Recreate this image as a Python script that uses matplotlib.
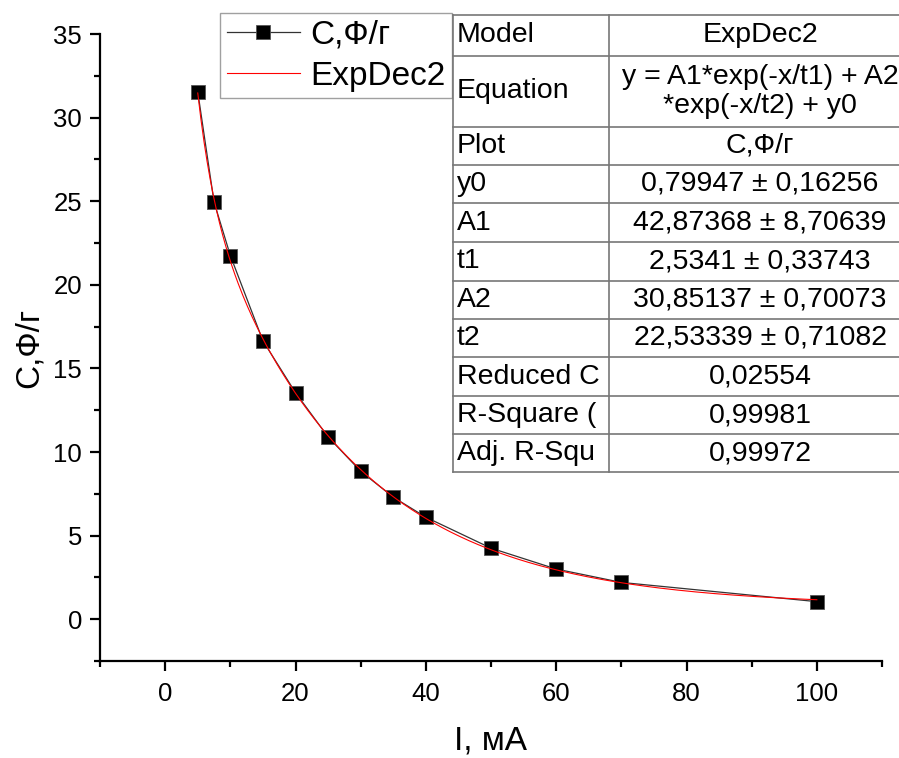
import matplotlib
matplotlib.use('Agg')
import matplotlib.pyplot as plt
import numpy as np
from matplotlib.lines import Line2D
from matplotlib.ticker import MultipleLocator

plt.rcParams['font.family'] = ['Liberation Sans', 'DejaVu Sans']

# measured points
current_ma = [5, 7.5, 10, 15, 20, 25, 30, 35, 40, 50, 60, 70, 100]
capacity = [31.55, 24.95, 21.75, 16.65, 13.55, 10.9, 8.85, 7.3, 6.1, 4.25, 3.0, 2.2, 1.05]

# ExpDec2 fit parameters (from the table)
y0, A1, t1, A2, t2 = 0.79947, 42.87368, 2.5341, 30.85137, 22.53339

table_labels = ['Model', 'Equation', 'Plot', 'y0', 'A1', 't1', 'A2', 't2',
                'Reduced C', 'R-Square (', 'Adj. R-Squ']
table_values = ['ExpDec2', 'y = A1*exp(-x/t1) + A2\n*exp(-x/t2) + y0', 'C,Ф/г',
                '0,79947 ± 0,16256', '42,87368 ± 8,70639', '2,5341 ± 0,33743',
                '30,85137 ± 0,70073', '22,53339 ± 0,71082', '0,02554',
                '0,99981', '0,99972']

fig = plt.figure(figsize=(8.99, 7.58), dpi=100)
ax = fig.add_axes([100/899, 1-661/758, 782/899, 627/758])

xf = np.linspace(min(current_ma), max(current_ma), 400)
yf = A1*np.exp(-xf/t1) + A2*np.exp(-xf/t2) + y0

ax.plot(current_ma, capacity, '-', color='#333333', lw=0.9, marker='s', ms=9.5,
        mfc='black', mec='#555555', mew=0.6, label='C,Ф/г', zorder=3)
ax.plot(xf, yf, '-', color='red', lw=0.8, label='ExpDec2', zorder=4)

ax.set_xlim(-10, 110)
ax.set_ylim(-2.5, 35)
ax.xaxis.set_major_locator(MultipleLocator(20))
ax.xaxis.set_minor_locator(MultipleLocator(10))
ax.yaxis.set_major_locator(MultipleLocator(5))
ax.yaxis.set_minor_locator(MultipleLocator(2.5))
for s in ['top', 'right']:
    ax.spines[s].set_visible(False)
for s in ['left', 'bottom']:
    ax.spines[s].set_linewidth(1.6)
ax.tick_params(which='major', direction='out', length=7, width=1.6, labelsize=18.5, pad=6)
ax.tick_params(axis='x', which='major', pad=8)
ax.tick_params(which='minor', direction='out', length=4, width=1.6)
ax.set_xlabel('I, мА', fontsize=24, labelpad=14)
ax.set_ylabel('C,Ф/г', fontsize=24, labelpad=6)

leg = ax.legend(loc='upper left', bbox_to_anchor=(220/899, 1-13/758), bbox_transform=fig.transFigure,
                fontsize=24, frameon=True, fancybox=False, handlelength=2.2, borderpad=0.2,
                labelspacing=0.3, handletextpad=0.3, borderaxespad=0)
leg.get_frame().set_edgecolor('#888888')
leg.get_frame().set_linewidth(1.0)

# fit results table, drawn in figure pixels
W, H = 899, 758
rows = [15, 56, 127, 165, 203, 242, 281, 319, 357, 396, 434, 472]
x_left, x_mid, x_right = 453, 609, 911
fig.patches.append(plt.Rectangle((x_left/W, 1-rows[-1]/H), (x_right-x_left)/W,
                                 (rows[-1]-rows[0])/H, transform=fig.transFigure,
                                 facecolor='white', edgecolor='none', zorder=5))
lc = '#777777'
for r in rows:
    fig.add_artist(Line2D([x_left/W, x_right/W], [1-r/H, 1-r/H], color=lc, lw=1.2, zorder=6))
for xx in [x_left, x_mid, x_right]:
    fig.add_artist(Line2D([xx/W, xx/W], [1-rows[0]/H, 1-rows[-1]/H], color=lc, lw=1.2, zorder=6))
for i, (lab, val) in enumerate(zip(table_labels, table_values)):
    yc = 1-(rows[i]+rows[i+1])/2/H
    fig.text((x_left+4)/W, yc, lab, ha='left', va='center', fontsize=20.5, zorder=7)
    fig.text((x_mid+x_right)/2/W, yc, val, ha='center', va='center', fontsize=20.5,
             linespacing=1.15, zorder=7)

fig.savefig('out.png', dpi=100)
